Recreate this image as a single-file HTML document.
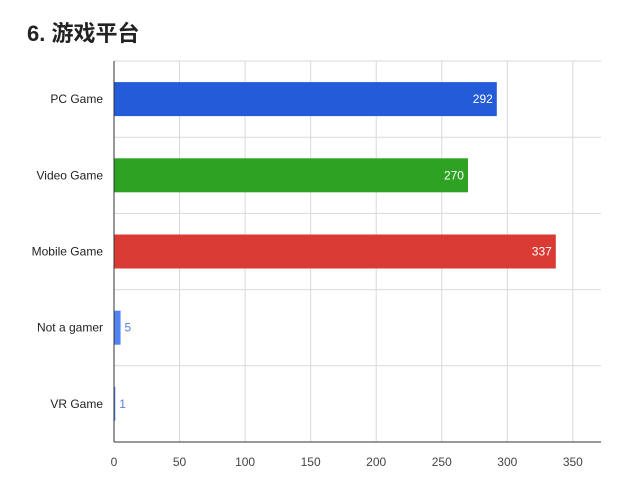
<!DOCTYPE html>
<html><head><meta charset="utf-8"><style>
body{margin:0;background:#fff;width:628px;height:484px;overflow:hidden;font-family:"Liberation Sans","Noto Sans CJK SC",sans-serif}
#title{position:absolute;left:27px;top:16px;font-size:22px;font-weight:bold;color:#222}
</style></head><body>
<div id="title">6. 游戏平台</div>
<svg id="chart" width="628" height="484" style="position:absolute;left:0;top:0"></svg>
<script>
const categories=["PC Game","Video Game","Mobile Game","Not a gamer","VR Game"];
const values=[292,270,337,5,1];
const colors=["#235bd8","#2ea323","#d93a33","#4f83f2","#4f83f2"];
const ticks=[0,50,100,150,200,250,300,350];
const svg=document.getElementById('chart');
const NS="http://www.w3.org/2000/svg";
const x0=114,pxPer=1.311,xEnd=601,yTop=61,yBot=442;
const band=(yBot-yTop)/categories.length;
const X=v=>x0+v*pxPer;
function el(t,a){const e=document.createElementNS(NS,t);for(const k in a)e.setAttribute(k,a[k]);svg.appendChild(e);return e;}
ticks.forEach(t=>{
 const g=el('line',{x1:X(t),x2:X(t),y1:yTop,y2:yBot,stroke:'#d9d9d9','stroke-width':1});
 
 
 const l=el('text',{x:X(t),y:466,'text-anchor':'middle','font-size':12,fill:'#444'});
 l.textContent=t;
 
 
});
for(let i=0;i<=categories.length;i++){
 const g=el('line',{x1:x0,x2:xEnd,y1:yTop+i*band,y2:yTop+i*band,stroke:'#d9d9d9','stroke-width':1});
 
 
}
categories.forEach((c,i)=>{
 const cy=yTop+band*(i+0.5);
 const b=el('rect',{x:x0,y:cy-17,width:Math.max(values[i]*pxPer,1),height:34,fill:colors[i]});
 
 
 const l=el('text',{x:103,y:cy+4,'text-anchor':'end','font-size':12,fill:'#222'});
 l.textContent=c;
 
 
 const big=values[i]>50;
 const v=el('text',{x:big?X(values[i])-4:X(values[i])+4,y:cy+4,'text-anchor':big?'end':'start','font-size':12,fill:big?'#fff':'#5b7fe0'});
 v.textContent=values[i];
 
 
});
const a=el('line',{x1:x0,x2:x0,y1:yTop,y2:yBot,stroke:'#333','stroke-width':1});


const b=el('line',{x1:x0,x2:xEnd,y1:yBot,y2:yBot,stroke:'#333','stroke-width':1});


</script>
</body></html>
